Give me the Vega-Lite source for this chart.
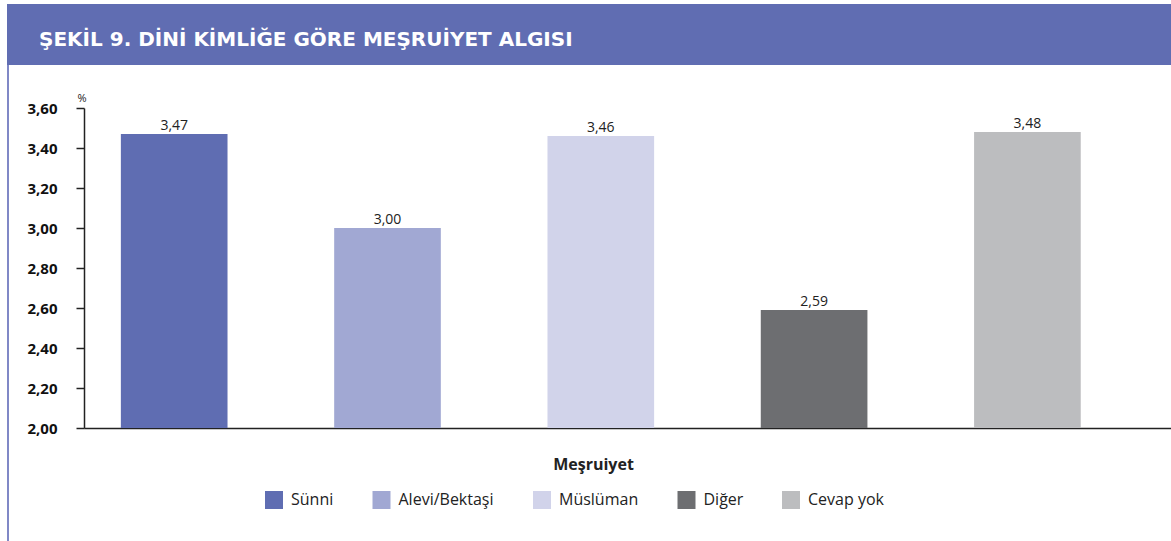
{
  "$schema": "https://vega.github.io/schema/vega-lite/v6.json",
  "padding": {"left": 7, "top": 4, "right": 0, "bottom": 0},
  "background": "white",
  "spacing": 0,
  "config": {
    "locale": {"number": {"decimal": ",", "thousands": ".", "grouping": [3], "currency": ["", " TL"]}},
    "font": "Open Sans",
    "view": {"stroke": null}
  },
  "vconcat": [
    {
      "width": 1087,
      "height": 61,
      "data": {"values": [{"x0": -77, "x1": 1087, "y0": 0, "y1": 1}]},
      "mark": {"type": "rect", "color": "#606db2"},
      "encoding": {
        "x": {"field": "x0", "type": "quantitative", "scale": {"domain": [0, 1087], "nice": false, "zero": false}, "axis": null},
        "x2": {"field": "x1"},
        "y": {"field": "y0", "type": "quantitative", "scale": {"domain": [0, 1], "nice": false}, "axis": null},
        "y2": {"field": "y1"}
      },
      "title": {
        "text": "ŞEKİL 9. DİNİ KİMLİĞE GÖRE MEŞRUİYET ALGISI",
        "anchor": "start",
        "orient": "top",
        "baseline": "alphabetic",
        "offset": -62,
        "dx": 32,
        "color": "white",
        "font": "DejaVu Sans",
        "fontSize": 20,
        "fontWeight": "bold",
        "limit": 0
      }
    },
    {
      "width": 1087,
      "height": 320,
      "data": {
        "values": [
          {"kategori": "Sünni", "deger": 3.47},
          {"kategori": "Alevi/Bektaşi", "deger": 3.00},
          {"kategori": "Müslüman", "deger": 3.46},
          {"kategori": "Diğer", "deger": 2.59},
          {"kategori": "Cevap yok", "deger": 3.48}
        ]
      },
      "resolve": {"scale": {"x": "independent", "y": "independent"}, "axis": {"x": "independent", "y": "independent"}},
      "layer": [
        {
          "data": {"values": [{"lx0": -77, "lx1": -75, "ly0": 363, "ly1": -113}]},
          "mark": {"type": "rect", "color": "#8088c6"},
          "encoding": {
            "x": {"field": "lx0", "type": "quantitative", "scale": {"domain": [0, 1087], "nice": false, "zero": false}, "axis": null},
            "x2": {"field": "lx1"},
            "y": {"field": "ly0", "type": "quantitative", "scale": {"domain": [0, 320], "nice": false, "zero": false}, "axis": null},
            "y2": {"field": "ly1"}
          }
        },
        {
          "layer": [
            {
              "mark": {"type": "bar"},
              "encoding": {
                "y2": {"datum": 2},
                "color": {
                  "field": "kategori",
                  "type": "nominal",
                  "sort": null,
                  "scale": {
                    "domain": ["Sünni", "Alevi/Bektaşi", "Müslüman", "Diğer", "Cevap yok"],
                    "range": ["#5f6db2", "#a1a8d3", "#d1d3ea", "#6d6e71", "#bcbdbf"]
                  },
                  "legend": {
                    "title": null,
                    "orient": "none",
                    "direction": "horizontal",
                    "legendX": 181,
                    "legendY": 487,
                    "symbolType": "square",
                    "symbolSize": 324,
                    "symbolStrokeWidth": 0,
                    "symbolOpacity": 1,
                    "labelFont": "Open Sans",
                    "labelFontSize": 16,
                    "labelColor": "#222",
                    "labelOffset": 8,
                    "columnPadding": 38.5
                  }
                }
              }
            },
            {
              "mark": {"type": "text", "baseline": "alphabetic", "dy": -4, "fontSize": 14, "color": "#222", "font": "Open Sans"},
              "encoding": {
                "text": {"field": "deger", "type": "quantitative", "format": ".2f"}
              }
            }
          ],
          "encoding": {
            "x": {
              "field": "kategori",
              "type": "nominal",
              "sort": null,
              "scale": {"paddingInner": 0.5, "paddingOuter": 0.298, "align": 0.29},
              "axis": {
                "title": "Meşruiyet",
                "titleFont": "Open Sans",
                "titleFontSize": 16,
                "titleFontWeight": "bold",
                "titleColor": "#222",
                "titlePadding": 28,
                "titleX": 509,
                "labels": false,
                "ticks": false,
                "domainColor": "#222",
                "domainWidth": 1.5
              }
            },
            "y": {
              "field": "deger",
              "type": "quantitative",
              "scale": {"domain": [2, 3.6], "zero": false, "nice": false},
              "axis": {
                "values": [2, 2.2, 2.4, 2.6, 2.8, 3, 3.2, 3.4, 3.6],
                "format": ".2f",
                "title": "%",
                "titleAngle": 0,
                "titleX": -7,
                "titleY": -7,
                "titleAlign": "left",
                "titleBaseline": "alphabetic",
                "titleFontSize": 11,
                "titleFontWeight": "normal",
                "titleColor": "#222",
                "labelFont": "Open Sans",
                "labelFontSize": 15,
                "labelFontWeight": "bold",
                "labelColor": "#111",
                "labelPadding": 19,
                "tickSize": 8,
                "tickColor": "#222",
                "tickWidth": 1.5,
                "domainColor": "#222",
                "domainWidth": 1.5,
                "gridColor": "#c4c4c4",
                "gridWidth": 1.5,
                "minExtent": 77,
                "maxExtent": 77
              }
            }
          }
        }
      ]
    }
  ]
}
